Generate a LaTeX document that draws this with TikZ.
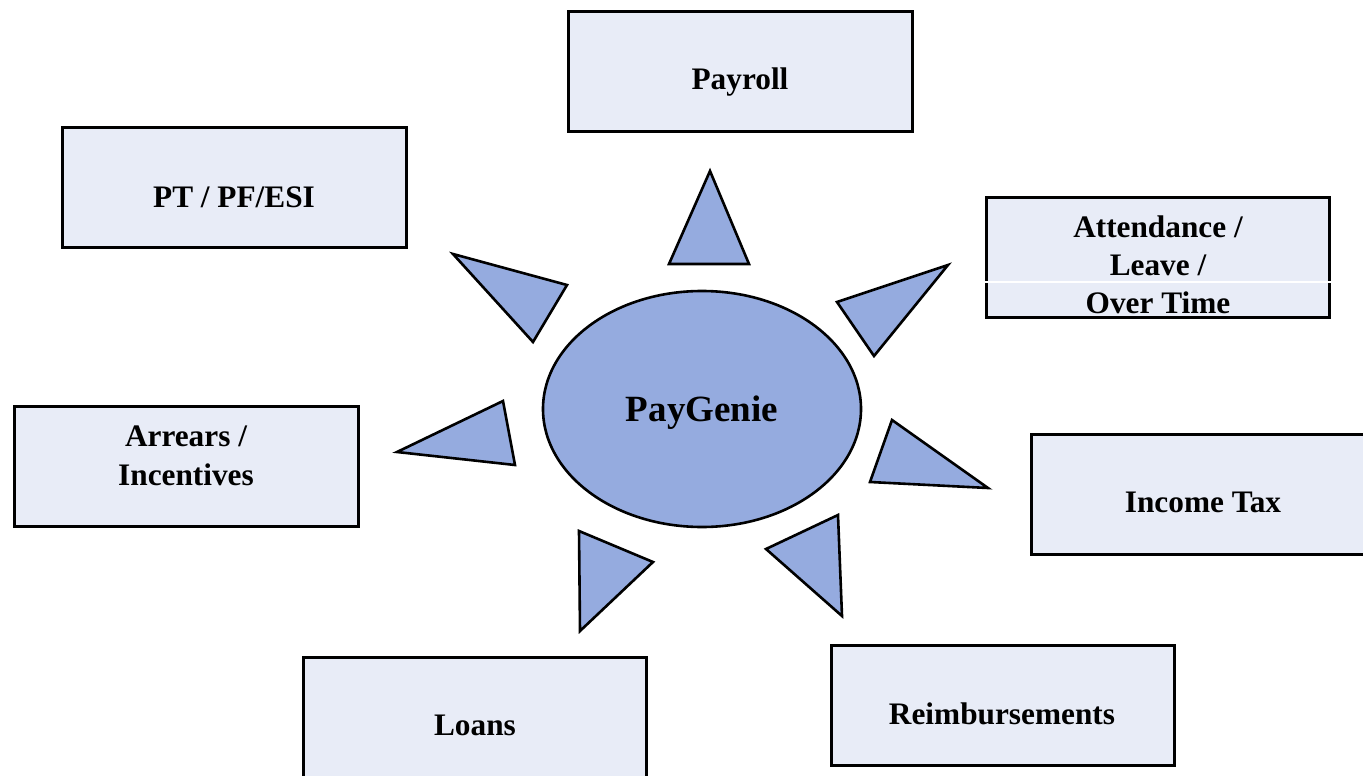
\documentclass[tikz,border=0pt]{standalone}
\usepackage{fontspec}
\setmainfont{Liberation Serif}
\usetikzlibrary{shapes.geometric}
\definecolor{boxfill}{HTML}{E8ECF7}
\definecolor{sunfill}{HTML}{95ABDF}
\begin{document}
\begin{tikzpicture}[x=1pt,y=-1pt,
  box/.style={draw=black, line width=2.6pt, fill=boxfill, minimum width=343.5pt, minimum height=119.5pt, inner sep=0pt},
  lbl/.style={inner sep=0pt, font=\fontsize{31.3}{38}\selectfont\bfseries, text height=21pt, text depth=0pt, align=center},
  ray/.style={draw=black, line width=2.6pt, fill=sunfill, line join=miter},
  hub/.style={ellipse, draw=black, line width=2.6pt, fill=sunfill, minimum width=318pt, minimum height=236pt, inner sep=0pt,
    font=\fontsize{37}{44}\selectfont\bfseries, text height=24pt, text depth=0pt}]
\useasboundingbox (0,0) rectangle (1363,776);
\begin{scope}
\clip (0,0) rectangle (1363,776);
% boxes
\node[box] (payroll) at (740.5,71.5) {};
\node[box] (pt) at (234.5,187.5) {};
\node[box] (att) at (1158,257.5) {};
\node[box] (arr) at (186.5,466.5) {};
\node[box] (itax) at (1203.5,494.5) {};
\node[box] (loans) at (475,717.5) {};
\node[box] (reimb) at (1003,705.5) {};
\end{scope}
% labels
\node[lbl] (payrollt) at (740,79) {Payroll};
\node[lbl] (ptt) at (234,197) {PT / PF/ESI};
\node[lbl] (att1) at (1158,227) {Attendance /};
\node[lbl] (att2) at (1158,265) {Leave /};
\node[lbl] (att3) at (1158,303) {Over Time};
\draw[white, line width=1.5pt] (933,282) -- (1334,282);
\node[lbl] (arr1) at (186,436) {Arrears /};
\node[lbl] (arr2) at (186,475) {Incentives};
\node[lbl] (itaxt) at (1203,502) {Income Tax};
\node[lbl] (loanst) at (475,725) {Loans};
\node[lbl] (reimbt) at (1002,714) {Reimbursements};
% hub
\node[hub] (genie) at (702,409) {PayGenie};
% rays
\draw[ray] (710,171) -- (669,264) -- (749,264) -- cycle;
\draw[ray] (453,254) -- (567,285) -- (533,342) -- cycle;
\draw[ray] (397,452) -- (503,401) -- (515,465) -- cycle;
\draw[ray] (948,265) -- (837,302) -- (874,356) -- cycle;
\draw[ray] (892,420) -- (870,482) -- (988,488) -- cycle;
\draw[ray] (838,515) -- (766,549) -- (842,616) -- cycle;
\draw[ray] (579,531) -- (653,562) -- (580,631) -- cycle;
\end{tikzpicture}
\end{document}
